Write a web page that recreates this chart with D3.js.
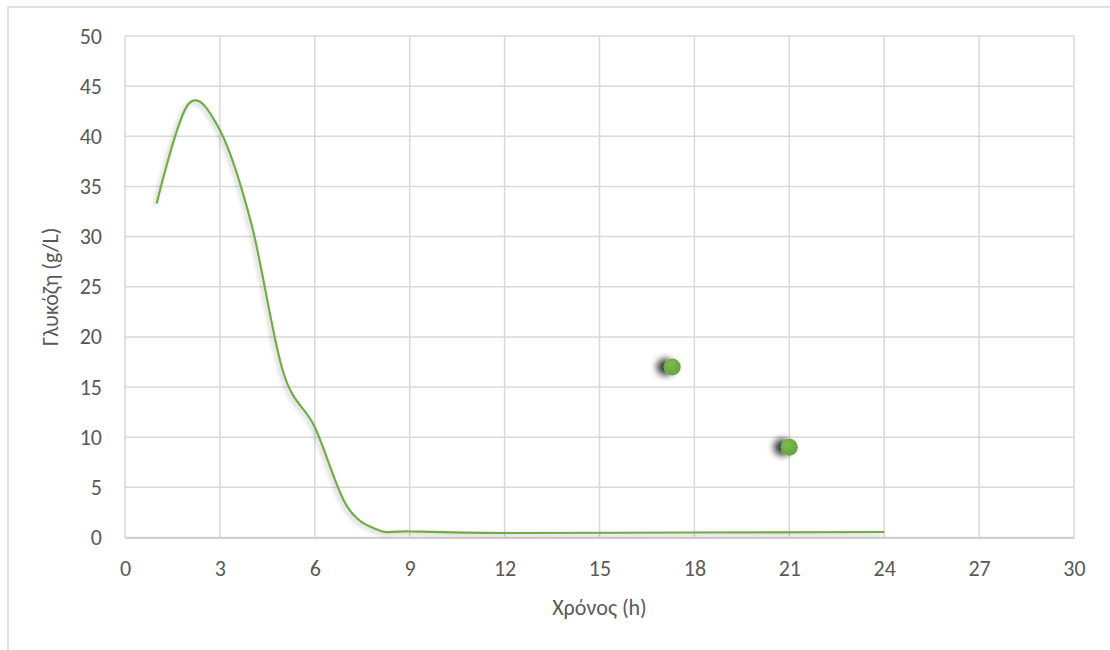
<!DOCTYPE html>
<html>
<head>
<meta charset="utf-8">
<script src="https://cdn.jsdelivr.net/npm/d3@7"></script>
<style>
  html, body { margin: 0; padding: 0; background: #fff; }
  svg { display: block; }
  text { font-family: Carlito, Calibri, Lato, "Open Sans", sans-serif; fill: #595959; }
</style>
</head>
<body>
<svg id="chart" width="1110" height="650"></svg>
<script>
// ---- data ----
const curveTimes  = [1, 2, 3, 4, 5, 6, 7, 8, 9, 12, 18, 24];
const curveValues = [33.3, 43.2, 40.6, 31.2, 16.5, 11, 3.2, 0.75, 0.6, 0.45, 0.5, 0.55];
const pointTimes  = [17.3, 21];
const pointValues = [17, 9];
const xTicks = [0, 3, 6, 9, 12, 15, 18, 21, 24, 27, 30];
const yTicks = [0, 5, 10, 15, 20, 25, 30, 35, 40, 45, 50];
const xTitle = "Χρόνος (h)";
const yTitle = "Γλυκόζη (g/L)";

const svg = d3.select("#chart");
const W = 1110, H = 650;
const m = { left: 125, right: 1074, top: 36, bottom: 537.5 };
const FS = 22;
const FONT = "Carlito, Calibri, Lato, sans-serif";

const defs = svg.append("defs");
const f1 = defs.append("filter").attr("id", "ptShadow")
  .attr("x", "-100%").attr("y", "-100%").attr("width", "300%").attr("height", "300%");
f1.append("feGaussianBlur").attr("in", "SourceAlpha").attr("stdDeviation", 3.5).attr("result", "b");
f1.append("feOffset").attr("in", "b").attr("dx", -7).attr("dy", 0).attr("result", "o");
f1.append("feComponentTransfer").attr("in", "o").attr("result", "oc")
  .append("feFuncA").attr("type", "linear").attr("slope", 0.8);
const fm1 = f1.append("feMerge");
fm1.append("feMergeNode").attr("in", "oc");
fm1.append("feMergeNode").attr("in", "SourceGraphic");

const f2 = defs.append("filter").attr("id", "lineShadow")
  .attr("x", "-10%").attr("y", "-10%").attr("width", "120%").attr("height", "120%");
f2.append("feGaussianBlur").attr("in", "SourceAlpha").attr("stdDeviation", 2).attr("result", "b");
f2.append("feOffset").attr("in", "b").attr("dx", -2).attr("dy", 2).attr("result", "o");
f2.append("feComponentTransfer").attr("in", "o").attr("result", "oc")
  .append("feFuncA").attr("type", "linear").attr("slope", 0.25);
const fm2 = f2.append("feMerge");
fm2.append("feMergeNode").attr("in", "oc");
fm2.append("feMergeNode").attr("in", "SourceGraphic");

const grad = defs.append("radialGradient").attr("id", "ptGrad")
  .attr("cx", "40%").attr("cy", "35%").attr("r", "70%");
grad.append("stop").attr("offset", "0%").attr("stop-color", "#7dbb52");
grad.append("stop").attr("offset", "100%").attr("stop-color", "#64a03c");

// outer chart border
svg.append("path")
  .attr("d", `M8,${H} L8,7 L${W},7`)
  .attr("fill", "none").attr("stroke", "#d9d9d9").attr("stroke-width", 1.5);

const x = d3.scaleLinear().domain([0, 30]).range([m.left, m.right]);
const y = d3.scaleLinear().domain([0, 50]).range([m.bottom, m.top]);

// gridlines
const grid = svg.append("g");
grid.selectAll(".gx").data(xTicks).join("line")
  .attr("x1", d => x(d)).attr("x2", d => x(d))
  .attr("y1", m.top).attr("y2", m.bottom)
  .attr("stroke", "#d9d9d9").attr("stroke-width", 1.5);
grid.selectAll(".gy").data(yTicks).join("line")
  .attr("x1", m.left).attr("x2", m.right)
  .attr("y1", d => y(d)).attr("y2", d => y(d))
  .attr("stroke", "#d9d9d9").attr("stroke-width", 1.5);

// axes (labels only)
const xAxis = d3.axisBottom(x).tickValues(xTicks).tickSize(0).tickPadding(23);
const gx = svg.append("g").attr("transform", `translate(0,${m.bottom})`).call(xAxis);
gx.select(".domain").attr("stroke", "#d0d0d0").attr("stroke-width", 2);
gx.selectAll("text").attr("font-size", FS).style("fill", "#595959").style("font-family", FONT);

const yAxis = d3.axisLeft(y).tickValues(yTicks).tickSize(0).tickPadding(23);
const gy = svg.append("g").attr("transform", `translate(${m.left},0)`).call(yAxis);
gy.select(".domain").remove();
gy.selectAll("text").attr("font-size", FS).style("fill", "#595959").style("font-family", FONT);

// titles
svg.append("text").attr("x", (m.left + m.right) / 2).attr("y", 615)
  .attr("text-anchor", "middle").attr("font-size", FS).text(xTitle);
svg.append("text")
  .attr("transform", `translate(58,${(m.top + m.bottom) / 2}) rotate(-90)`)
  .attr("text-anchor", "middle").attr("font-size", FS).text(yTitle);

// curve (Excel-style smoothed line = uniform Catmull-Rom)
const pts = curveTimes.map((t, i) => [t, curveValues[i]]);
const line = d3.line().x(d => x(d[0])).y(d => y(d[1])).curve(d3.curveCatmullRom.alpha(0));
svg.append("path").datum(pts)
  .attr("d", line)
  .attr("fill", "none").attr("stroke", "#70ad47").attr("stroke-width", 2.2)
  .attr("filter", "url(#lineShadow)");

// scatter points
svg.selectAll(".pt").data(pointTimes.map((t, i) => [t, pointValues[i]])).join("circle")
  .attr("cx", d => x(d[0])).attr("cy", d => y(d[1])).attr("r", 8.5)
  .attr("fill", "url(#ptGrad)").attr("filter", "url(#ptShadow)");
</script>
</body>
</html>
